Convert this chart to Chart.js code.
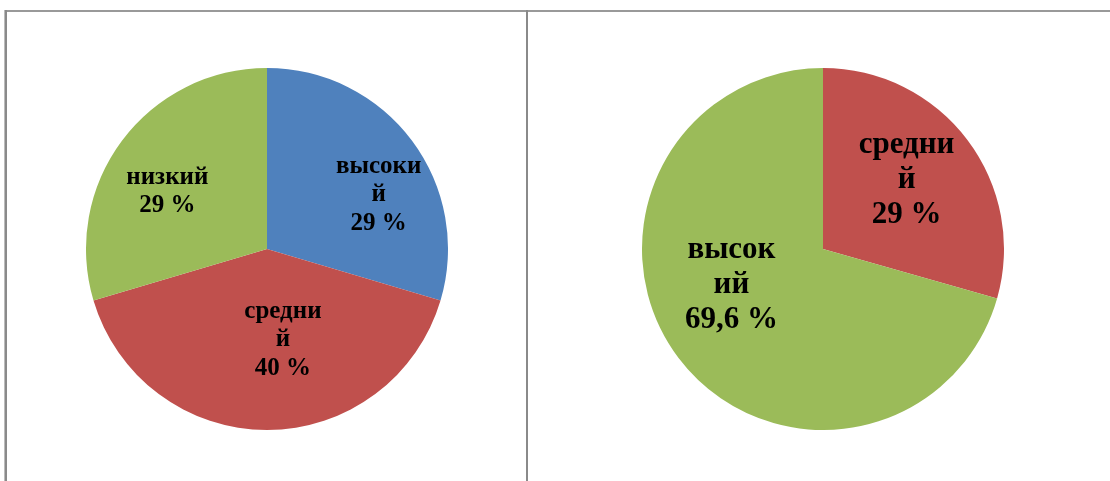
<!DOCTYPE html>
<html>
<head>
<meta charset="utf-8">
<script src="https://cdn.jsdelivr.net/npm/chart.js@4"></script>
<style>
  html, body { margin: 0; padding: 0; background: #fff; }
  body { width: 1110px; height: 481px; position: relative; overflow: hidden; }
  .line { position: absolute; background: #8a8a8a; }
  canvas { position: absolute; }
</style>
</head>
<body>
<div class="line" style="left:4px;top:10px;width:1106px;height:2px;background:#999;"></div>
<div class="line" style="left:4px;top:10px;width:1px;height:471px;background:#bbb;"></div>
<div class="line" style="left:5px;top:10px;width:2px;height:471px;"></div>
<div class="line" style="left:526px;top:10px;width:2px;height:471px;"></div>
<canvas id="leftPie" width="362" height="362" style="left:86px;top:68px;"></canvas>
<canvas id="rightPie" width="362" height="362" style="left:642px;top:68px;"></canvas>
<script>
// left chart
var leftCategories = ['высокий', 'средний', 'низкий'];
var leftValues = [29, 40, 29];
var leftLabelLines = [['высоки', 'й', '29 %'], ['средни', 'й', '40 %'], ['низкий', '29 %']];
// right chart
var rightCategories = ['средний', 'высокий'];
var rightValues = [29, 69.6];
var rightLabelLines = [['средни', 'й', '29 %'], ['высок', 'ий', '69,6 %']];

var blue = '#4f81bd', red = '#c0504d', green = '#9bbb59';

// draws the text block of every slice, placed by angle (deg from top, clockwise) and radius fraction
var sliceLabels = {
    id: 'sliceLabels',
    afterDatasetsDraw: function (chart, args, opts) {
        var ctx = chart.ctx;
        var arcs = chart.getDatasetMeta(0).data;
        ctx.save();
        ctx.fillStyle = '#000';
        ctx.font = 'bold ' + opts.size + 'px "Liberation Serif", "Times New Roman", serif';
        ctx.textAlign = 'center';
        ctx.textBaseline = 'middle';
        for (var i = 0; i < arcs.length; i++) {
            var a = arcs[i];
            var pos = opts.pos[i];
            var ang = pos[0] * Math.PI / 180;
            var r = a.outerRadius * pos[1];
            var cx = a.x + Math.sin(ang) * r;
            var cy = a.y - Math.cos(ang) * r;
            var lines = opts.lines[i];
            var top = cy - (lines.length - 1) * opts.lineHeight / 2;
            for (var j = 0; j < lines.length; j++) {
                ctx.fillText(lines[j], cx, top + j * opts.lineHeight);
            }
        }
        ctx.restore();
    }
};

function makePie(id, cats, vals, colors, lines, pos, size, lh) {
    return new Chart(document.getElementById(id).getContext('2d'), {
        type: 'pie',
        data: {
            labels: cats,
            datasets: [{
                data: vals,
                backgroundColor: colors,
                borderWidth: 0
            }]
        },
        options: {
            responsive: false,
            animation: false,
            layout: { padding: 0 },
            plugins: {
                legend: { display: false },
                tooltip: { enabled: false },
                sliceLabels: { lines: lines, pos: pos, size: size, lineHeight: lh }
            }
        },
        plugins: [sliceLabels]
    });
}

makePie('leftPie', leftCategories, leftValues, [blue, red, green], leftLabelLines,
    [[64, 0.686], [170, 0.508], [300, 0.636]], 25, 28.5);
makePie('rightPie', rightCategories, rightValues, [red, green], rightLabelLines,
    [[50.3, 0.6], [248.4, 0.544]], 31, 35);
</script>
</body>
</html>
